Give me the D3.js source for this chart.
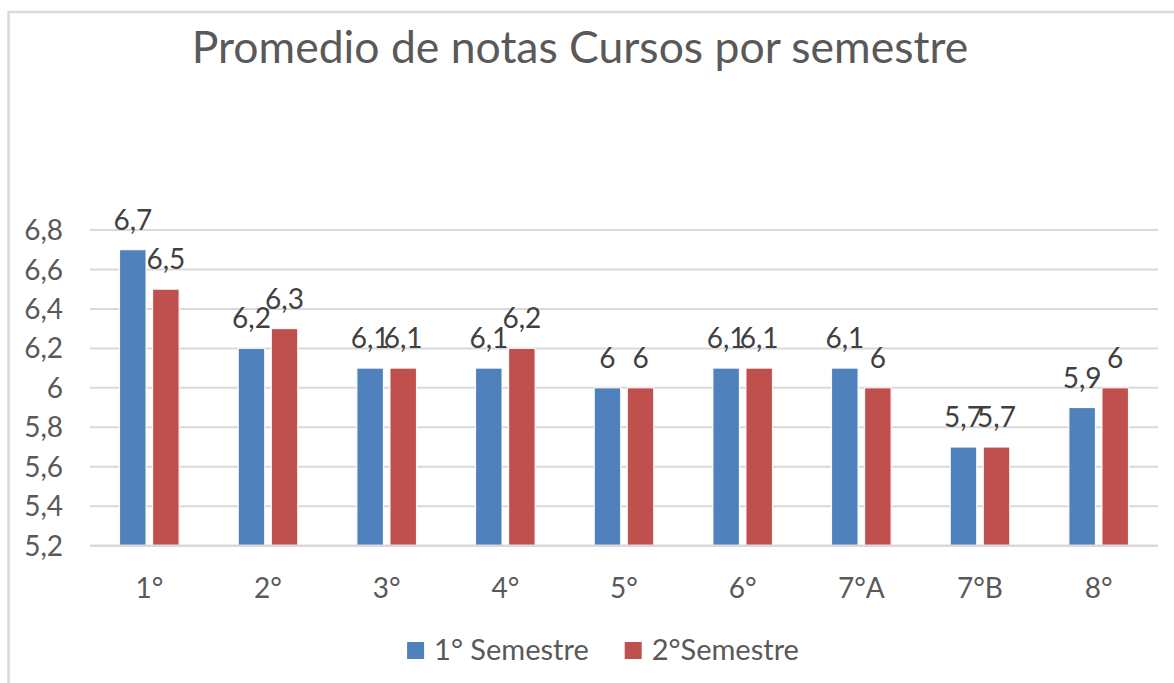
<!DOCTYPE html>
<html>
<head>
<meta charset="utf-8">
<script src="https://cdn.jsdelivr.net/npm/d3@7"></script>
<style>
  body { margin: 0; background: #fff; }
  svg { display: block; font-family: Lato, "Open Sans", sans-serif; }
</style>
</head>
<body>
<svg id="chart" width="1174" height="683"></svg>
<script>
// data
var cursos = ["1°", "2°", "3°", "4°", "5°", "6°", "7°A", "7°B", "8°"];
var semestre1 = [6.7, 6.2, 6.1, 6.1, 6.0, 6.1, 6.1, 5.7, 5.9];
var semestre2 = [6.5, 6.3, 6.1, 6.2, 6.0, 6.1, 6.0, 5.7, 6.0];
var seriesNames = ["1° Semestre", "2°Semestre"];
var seriesColors = ["#4f81bd", "#c0504d"];
var yTicks = [5.2, 5.4, 5.6, 5.8, 6, 6.2, 6.4, 6.6, 6.8];

var svg = d3.select("#chart");
var W = 1174, H = 683;

// chart frame (only left and top edges are in view)
svg.append("rect")
  .attr("x", 8.5).attr("y", 12)
  .attr("width", W + 20).attr("height", H + 20)
  .attr("fill", "#fff")
  .attr("stroke", "#d9d9d9")
  .attr("stroke-width", 2.5);

var plot = { left: 90, right: 1158, top: 230, bottom: 545.7 };

var x0 = d3.scaleBand().domain(cursos).range([plot.left, plot.right]);
var groupW = 59.5;
var x1 = d3.scaleBand().domain(seriesNames).range([0, groupW]).paddingInner(0.2);
var y = d3.scaleLinear().domain([5.2, 6.8]).range([plot.bottom, plot.top]);

var fmt = function(v) { return String(v).replace(".", ","); };

// gridlines
svg.append("g").selectAll("line")
  .data(yTicks.slice(1))
  .enter().append("line")
  .attr("x1", plot.left).attr("x2", plot.right)
  .attr("y1", function(d) { return y(d); })
  .attr("y2", function(d) { return y(d); })
  .attr("stroke", "#d9d9d9")
  .attr("stroke-width", 2);

// y labels
svg.append("g").selectAll("text")
  .data(yTicks)
  .enter().append("text")
  .attr("x", 63)
  .attr("y", function(d) { return y(d); })
  .attr("dy", "0.36em")
  .attr("text-anchor", "end")
  .attr("font-size", 28)
  .attr("fill", "#595959")
  .text(fmt);

// rows of bars
var rows = cursos.map(function(c, i) {
  return { curso: c, values: [semestre1[i], semestre2[i]] };
});

var groups = svg.append("g").selectAll("g")
  .data(rows)
  .enter().append("g")
  .attr("transform", function(d) {
    return "translate(" + (x0(d.curso) + (x0.bandwidth() - groupW) / 2) + ",0)";
  });

groups.selectAll("rect")
  .data(function(d) { return d.values.map(function(v, k) { return { s: seriesNames[k], k: k, v: v }; }); })
  .enter().append("rect")
  .attr("x", function(d) { return x1(d.s); })
  .attr("y", function(d) { return y(d.v); })
  .attr("width", x1.bandwidth())
  .attr("height", function(d) { return plot.bottom - y(d.v); })
  .attr("fill", function(d) { return seriesColors[d.k]; })
  .attr("stroke", "#fff")
  .attr("stroke-width", 1);

groups.selectAll("text")
  .data(function(d) { return d.values.map(function(v, k) { return { s: seriesNames[k], v: v }; }); })
  .enter().append("text")
  .attr("x", function(d) { return x1(d.s) + x1.bandwidth() / 2; })
  .attr("y", function(d) { return y(d.v) - 20; })
  .attr("text-anchor", "middle")
  .attr("font-size", 28)
  .attr("fill", "#404040")
  .text(function(d) { return fmt(d.v); });

// x axis line
svg.append("line")
  .attr("x1", plot.left).attr("x2", plot.right)
  .attr("y1", plot.bottom).attr("y2", plot.bottom)
  .attr("stroke", "#d9d9d9")
  .attr("stroke-width", 2.5);

// x labels
svg.append("g").selectAll("text")
  .data(cursos)
  .enter().append("text")
  .attr("x", function(d) { return x0(d) + x0.bandwidth() / 2; })
  .attr("y", 598)
  .attr("text-anchor", "middle")
  .attr("font-size", 28)
  .attr("fill", "#595959")
  .text(function(d) { return d; });

// title
svg.append("text")
  .attr("x", 580)
  .attr("y", 63)
  .attr("text-anchor", "middle")
  .attr("font-size", 44.5)
  .attr("fill", "#595959")
  .text("Promedio de notas Cursos por semestre");

// legend
var legend = svg.append("g");
var lx = 0;
seriesNames.forEach(function(name, k) {
  legend.append("rect")
    .attr("x", lx).attr("y", 642)
    .attr("width", 17).attr("height", 17)
    .attr("fill", seriesColors[k]);
  var t = legend.append("text")
    .attr("x", lx + 27).attr("y", 660)
    .attr("font-size", 29)
    .attr("fill", "#595959")
    .text(name);
  lx += 27 + t.node().getComputedTextLength() + 36;
});
var lw = lx - 36;
legend.attr("transform", "translate(" + (603 - lw / 2) + ",0)");
</script>
</body>
</html>
